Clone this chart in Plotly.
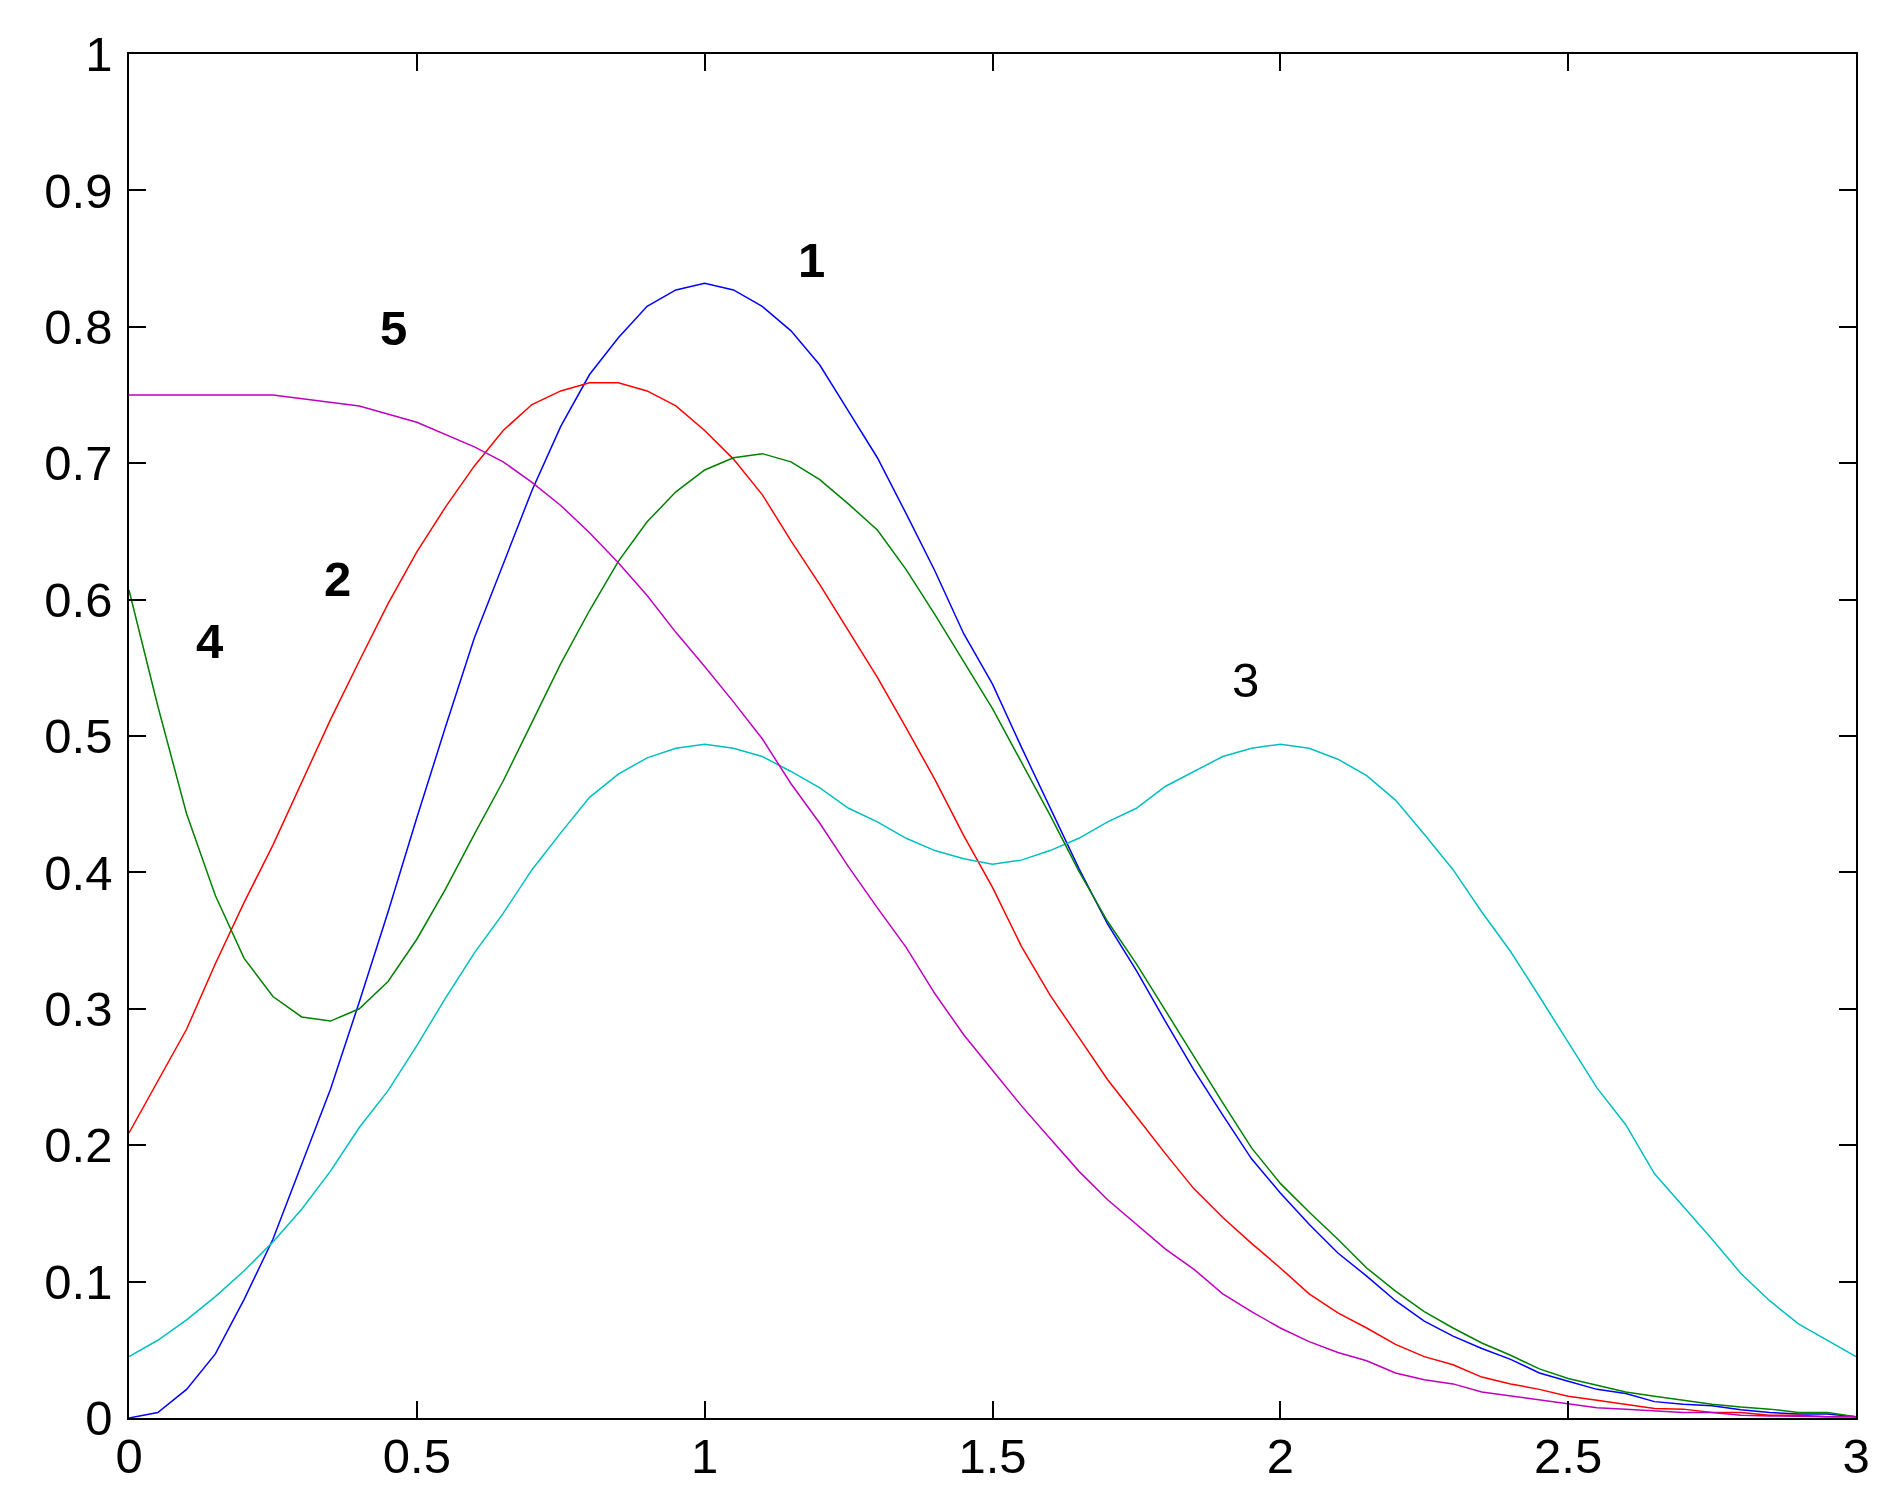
import plotly.graph_objects as go

x = [0.0, 0.05, 0.1, 0.15, 0.2, 0.25, 0.3, 0.35, 0.4, 0.45, 0.5, 0.55, 0.6, 0.65, 0.7, 0.75,
     0.8, 0.85, 0.9, 0.95, 1.0, 1.05, 1.1, 1.15, 1.2, 1.25, 1.3, 1.35, 1.4, 1.45, 1.5, 1.55,
     1.6, 1.65, 1.7, 1.75, 1.8, 1.85, 1.9, 1.95, 2.0, 2.05, 2.1, 2.15, 2.2, 2.25, 2.3, 2.35,
     2.4, 2.45, 2.5, 2.55, 2.6, 2.65, 2.7, 2.75, 2.8, 2.85, 2.9, 2.95, 3.0]

curve1 = [0.000, 0.004, 0.021, 0.047, 0.087, 0.131, 0.186, 0.241, 0.305, 0.371, 0.440, 0.507,
          0.572, 0.626, 0.680, 0.727, 0.765, 0.792, 0.815, 0.827, 0.832, 0.827, 0.815, 0.797,
          0.772, 0.738, 0.704, 0.663, 0.621, 0.575, 0.538, 0.492, 0.447, 0.403, 0.362, 0.328,
          0.291, 0.255, 0.222, 0.190, 0.165, 0.142, 0.121, 0.104, 0.086, 0.071, 0.060, 0.051,
          0.043, 0.033, 0.027, 0.021, 0.018, 0.012, 0.010, 0.009, 0.006, 0.004, 0.003, 0.003,
          0.001]

curve2 = [0.209, 0.247, 0.285, 0.333, 0.378, 0.420, 0.466, 0.512, 0.555, 0.597, 0.635, 0.668,
          0.698, 0.724, 0.743, 0.753, 0.759, 0.759, 0.753, 0.742, 0.724, 0.703, 0.677, 0.643,
          0.611, 0.577, 0.543, 0.506, 0.468, 0.427, 0.389, 0.346, 0.310, 0.279, 0.248, 0.221,
          0.194, 0.168, 0.147, 0.128, 0.110, 0.091, 0.077, 0.066, 0.054, 0.045, 0.039, 0.030,
          0.025, 0.021, 0.016, 0.013, 0.010, 0.007, 0.0065, 0.004, 0.004, 0.002, 0.002, 0.001,
          0.001]

curve3 = [0.045, 0.057, 0.072, 0.089, 0.108, 0.129, 0.153, 0.181, 0.213, 0.240, 0.273, 0.308,
          0.341, 0.370, 0.402, 0.429, 0.455, 0.472, 0.484, 0.491, 0.494, 0.491, 0.485, 0.474,
          0.462, 0.447, 0.437, 0.425, 0.416, 0.410, 0.406, 0.409, 0.416, 0.425, 0.437, 0.447,
          0.463, 0.474, 0.485, 0.491, 0.494, 0.491, 0.483, 0.471, 0.453, 0.428, 0.402, 0.371,
          0.342, 0.309, 0.275, 0.242, 0.215, 0.179, 0.155, 0.131, 0.106, 0.086, 0.069, 0.057,
          0.045]

curve4 = [0.607, 0.522, 0.443, 0.383, 0.337, 0.309, 0.294, 0.291, 0.300, 0.320, 0.351, 0.388,
          0.428, 0.467, 0.510, 0.553, 0.592, 0.628, 0.657, 0.679, 0.695, 0.704, 0.707, 0.701,
          0.688, 0.670, 0.651, 0.622, 0.589, 0.555, 0.520, 0.481, 0.442, 0.401, 0.364, 0.333,
          0.299, 0.264, 0.231, 0.198, 0.172, 0.151, 0.131, 0.110, 0.093, 0.078, 0.066, 0.055,
          0.046, 0.036, 0.029, 0.024, 0.019, 0.016, 0.013, 0.010, 0.008, 0.0065, 0.004, 0.004,
          0.001]

x5 = [0.0, 0.25, 0.4, 0.5, 0.6, 0.65, 0.7, 0.75, 0.8, 0.85, 0.9, 0.95, 1.0, 1.05, 1.1, 1.15,
      1.2, 1.25, 1.3, 1.35, 1.4, 1.45, 1.5, 1.55, 1.6, 1.65, 1.7, 1.75, 1.8, 1.85, 1.9, 1.95,
      2.0, 2.05, 2.1, 2.15, 2.2, 2.25, 2.3, 2.35, 2.4, 2.45, 2.5, 2.55, 2.6, 2.65, 2.7, 2.75,
      2.8, 2.85, 2.9, 2.95, 3.0]
curve5 = [0.750, 0.750, 0.742, 0.730, 0.712, 0.701, 0.686, 0.669, 0.649, 0.627, 0.603, 0.576,
          0.551, 0.525, 0.498, 0.465, 0.436, 0.404, 0.374, 0.345, 0.311, 0.281, 0.255, 0.229,
          0.205, 0.181, 0.160, 0.142, 0.124, 0.109, 0.091, 0.078, 0.066, 0.056, 0.048, 0.042,
          0.033, 0.028, 0.025, 0.019, 0.016, 0.013, 0.0105, 0.0075, 0.0065, 0.005, 0.004, 0.004,
          0.002, 0.0015, 0.001, 0.001, 0.001]

label_text = ["<b>1</b>", "<b>2</b>", "3", "<b>4</b>", "<b>5</b>"]
label_x = [1.186, 0.363, 1.940, 0.139, 0.459]
label_y = [0.849, 0.615, 0.541, 0.570, 0.799]

x_ticks = [0, 0.5, 1, 1.5, 2, 2.5, 3]
x_tick_text = ["0", "0.5", "1", "1.5", "2", "2.5", "3"]
y_ticks = [0, 0.1, 0.2, 0.3, 0.4, 0.5, 0.6, 0.7, 0.8, 0.9, 1]
y_tick_text = ["0", "0.1", "0.2", "0.3", "0.4", "0.5", "0.6", "0.7", "0.8", "0.9", "1"]

FONT = "Liberation Sans, Arial, sans-serif"

fig = go.Figure()
series = [
    (x, curve1, "#0000FF"),
    (x, curve2, "#FF0000"),
    (x, curve3, "#00BFBF"),
    (x, curve4, "#008000"),
    (x5, curve5, "#BF00BF"),
]
for xs, ys, col in series:
    fig.add_trace(go.Scatter(x=xs, y=ys, mode="lines",
                             line=dict(color=col, width=1.5), showlegend=False,
                             hoverinfo="skip"))

for t, lx, ly in zip(label_text, label_x, label_y):
    fig.add_annotation(x=lx, y=ly, text=t, showarrow=False,
                       font=dict(family=FONT, size=49, color="black"))

axis_common = dict(showgrid=False, zeroline=False, showline=True, linecolor="black",
                   linewidth=1.5, mirror="ticks", ticks="inside", ticklen=17,
                   tickwidth=1.5, tickcolor="black",
                   tickfont=dict(family=FONT, size=49, color="black"))

fig.update_xaxes(range=[0, 3], tickmode="array", tickvals=x_ticks, ticktext=x_tick_text,
                 ticklabelstandoff=-6, **axis_common)
fig.update_yaxes(range=[0, 1], tickmode="array", tickvals=y_ticks, ticktext=y_tick_text,
                 ticklabelstandoff=5, **axis_common)

fig.update_layout(width=1879, height=1494, paper_bgcolor="white", plot_bgcolor="white",
                  margin=dict(l=121, r=31, t=46, b=84, pad=0))

fig.write_html("out.html")
